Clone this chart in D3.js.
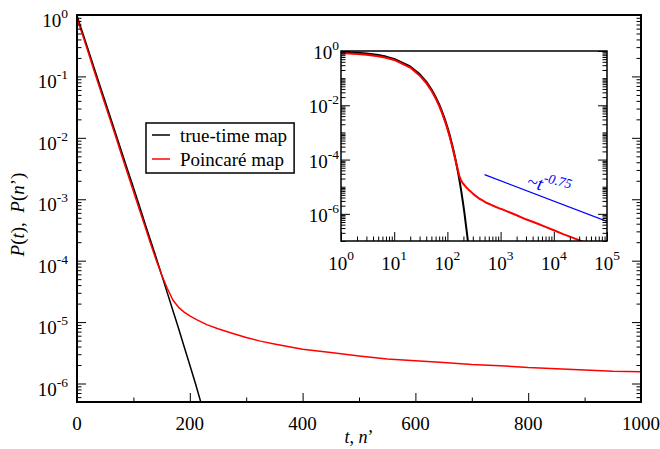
<!DOCTYPE html>
<html>
<head>
<meta charset="utf-8">
<script src="https://cdn.jsdelivr.net/npm/d3@7"></script>
<style>
  body { margin: 0; background: #fff; }
  svg { display: block; }
</style>
</head>
<body>
<svg id="chart" width="660" height="449"></svg>
<script>
// Survival probability of the true-time map, P(t)
const trueTimeT = [0, 1, 2, 3, 5, 7, 10, 20, 30, 40, 50, 60, 70, 80, 90, 100, 110, 120, 130,
  140, 150, 160, 170, 180, 190, 200, 210, 220, 230, 240, 250];
const trueTimeP = [0.977, 0.916, 0.859, 0.805, 0.708, 0.622, 0.513, 0.269, 0.141, 0.0741, 0.0389,
  0.0204, 0.0107, 0.00562, 0.00295, 0.00155, 8.13e-4, 4.17e-4, 2.19e-4, 1.15e-4, 5.89e-5, 3.02e-5,
  1.55e-5, 7.94e-6, 3.98e-6, 2.0e-6, 1.0e-6, 4.8e-7, 2.4e-7, 1.2e-7, 6.0e-8];

// Survival probability of the Poincaré map, P(n')
const poincareN = [0, 1, 2, 3, 5, 7, 10, 20, 30, 40, 50, 60, 70, 80, 90, 100, 110, 120, 130,
  140, 150, 160, 170, 180, 190, 200, 212, 230, 250, 275, 300, 325, 350, 400, 450, 500, 550, 600, 650,
  700, 750, 800, 850, 900, 950, 1000, 1500, 2000, 3000, 5000, 7000, 10000, 15000, 20000, 30000, 40000];
const poincareP = [0.891, 0.836, 0.783, 0.733, 0.645, 0.562, 0.468, 0.245, 0.126, 0.0661, 0.0347,
  0.0182, 0.00955, 0.0049, 0.00257, 0.00135, 7.08e-4, 3.72e-4, 1.95e-4, 1.05e-4, 5.9e-5, 3.55e-5,
  2.29e-5, 1.74e-5, 1.45e-5, 1.26e-5, 1.1e-5, 9.1e-6, 7.8e-6, 6.6e-6, 5.6e-6, 4.9e-6, 4.4e-6, 3.6e-6,
  3.2e-6, 2.8e-6, 2.5e-6, 2.35e-6, 2.2e-6, 2.04e-6, 1.95e-6, 1.82e-6, 1.74e-6, 1.66e-6, 1.58e-6,
  1.55e-6, 1.12e-6, 8.9e-7, 6.3e-7, 4.3e-7, 3.3e-7, 2.5e-7, 1.8e-7, 1.45e-7, 1.07e-7, 8.5e-8];

// Power-law guide ~ t^-0.75
const guideT = [500, 100000];
const guideP = [2.8e-5, 5.3e-7];
const guideLabel = "~t";
const guideExponent = "-0.75";

// Axis ticks and labels
const mainXMajor = [0, 200, 400, 600, 800, 1000];
const mainXMinor = [100, 300, 500, 700, 900];
const mainYExponents = [0, -1, -2, -3, -4, -5, -6];
const insetXExponents = [0, 1, 2, 3, 4, 5];
const insetYExponents = [0, -1, -2, -3, -4, -5, -6, -7];
const insetYLabelExponents = [0, -2, -4, -6];

const legendLabels = ["true-time map", "Poincaré map"];
const seriesColors = ["#000000", "#ff0000"];
const guideColor = "#0000ff";

const FONT = "'Liberation Serif'";

const svg = d3.select("#chart");

const mainBox = { left: 77, right: 641, top: 15, bottom: 402 };
const insetBox = { left: 341, right: 607, top: 51, bottom: 241 };

const x = d3.scaleLinear().domain([0, 1000]).range([mainBox.left, mainBox.right]);
const y = d3.scaleLog().domain([5e-7, 1]).range([mainBox.bottom, mainBox.top]);
const ix = d3.scaleLog().domain([1, 1e5]).range([insetBox.left, insetBox.right]);
const iy = d3.scaleLog().domain([1e-7, 1]).range([insetBox.bottom, insetBox.top]);

// log minor ticks (2..9 times each power of ten) within a domain
function logMinor(domain) {
  const out = [];
  const lo = Math.floor(Math.log10(domain[0])), hi = Math.ceil(Math.log10(domain[1]));
  for (let e = lo; e < hi; e++) {
    for (let m = 2; m <= 9; m++) {
      const v = m * Math.pow(10, e);
      if (v >= domain[0] * 0.999 && v <= domain[1] * 1.001) out.push(v);
    }
  }
  return out;
}

function drawTicks(g, axisFn, scale, values, size) {
  g.call(axisFn(scale).tickValues(values).tickSize(-size).tickFormat(""))
    .call(s => s.select(".domain").remove())
    .call(s => s.selectAll(".tick text").remove());
  g.selectAll(".tick line").attr("stroke", "#000").attr("stroke-width", 1);
}

function addText(g, px, py, size) {
  return g.append("text")
    .attr("x", px).attr("y", py)
    .style("font-family", FONT)
    .style("font-size", size + "px");
}

function powerLabel(g, px, py, exp, anchor, base, sup, rise) {
  const t = addText(g, px, py, base).attr("text-anchor", anchor);
  t.append("tspan").text("10");
  t.append("tspan").attr("dy", -rise).style("font-size", sup + "px").text(String(exp));
  return t;
}

svg.append("clipPath").attr("id", "clip-main")
  .append("rect")
  .attr("x", mainBox.left).attr("y", mainBox.top)
  .attr("width", mainBox.right - mainBox.left).attr("height", mainBox.bottom - mainBox.top);
svg.append("clipPath").attr("id", "clip-inset")
  .append("rect")
  .attr("x", insetBox.left).attr("y", insetBox.top)
  .attr("width", insetBox.right - insetBox.left).attr("height", insetBox.bottom - insetBox.top);

// ---------- main panel ----------
const series = [
  { xs: trueTimeT, ps: trueTimeP, color: seriesColors[0] },
  { xs: poincareN, ps: poincareP, color: seriesColors[1] }
];

const mainLine = d3.line().x(d => x(d[0])).y(d => y(d[1]));
const mainCurves = svg.append("g").attr("clip-path", "url(#clip-main)");
series.forEach(s => {
  const pts = s.xs.map((v, i) => [v, s.ps[i]]).filter(d => d[0] <= 1100);
  mainCurves.append("path")
    .attr("d", mainLine(pts))
    .attr("fill", "none")
    .attr("stroke", s.color)
    .attr("stroke-width", 1.5)
    .attr("stroke-linejoin", "round");
});

const yMajorMain = mainYExponents.map(e => Math.pow(10, e));
const yMinorMain = logMinor(y.domain());

drawTicks(svg.append("g").attr("transform", `translate(0,${mainBox.bottom})`), d3.axisBottom, x, mainXMajor, 9);
drawTicks(svg.append("g").attr("transform", `translate(0,${mainBox.bottom})`), d3.axisBottom, x, mainXMinor, 4.5);
drawTicks(svg.append("g").attr("transform", `translate(${mainBox.left},0)`), d3.axisLeft, y, yMajorMain, 9);
drawTicks(svg.append("g").attr("transform", `translate(${mainBox.left},0)`), d3.axisLeft, y, yMinorMain, 4.5);
drawTicks(svg.append("g").attr("transform", `translate(${mainBox.right},0)`), d3.axisRight, y, yMajorMain, 9);
drawTicks(svg.append("g").attr("transform", `translate(${mainBox.right},0)`), d3.axisRight, y, yMinorMain, 4.5);

svg.append("rect")
  .attr("x", mainBox.left).attr("y", mainBox.top)
  .attr("width", mainBox.right - mainBox.left).attr("height", mainBox.bottom - mainBox.top)
  .attr("fill", "none").attr("stroke", "#000").attr("stroke-width", 2);

const labels = svg.append("g");
mainXMajor.forEach(v => {
  addText(labels, x(v), 430, 19).attr("text-anchor", "middle").text(v);
});
mainYExponents.forEach(e => {
  powerLabel(labels, 68, y(Math.pow(10, e)) + 12, e, "end", 19, 13.5, 9);
});

// axis titles
const xTitle = addText(svg, (mainBox.left + mainBox.right) / 2, 443, 18).attr("text-anchor", "middle");
xTitle.append("tspan").style("font-style", "italic").text("t");
xTitle.append("tspan").text(", ");
xTitle.append("tspan").style("font-style", "italic").text("n");
xTitle.append("tspan").text("’");

const yTitle = svg.append("text")
  .attr("transform", `translate(24,${(mainBox.top + mainBox.bottom) / 2 + 6}) rotate(-90)`)
  .attr("text-anchor", "middle")
  .style("font-family", FONT).style("font-size", "19px");
yTitle.append("tspan").style("font-style", "italic").text("P");
yTitle.append("tspan").text("(");
yTitle.append("tspan").style("font-style", "italic").text("t");
yTitle.append("tspan").text("),\u00a0\u00a0");
yTitle.append("tspan").style("font-style", "italic").text("P");
yTitle.append("tspan").text("(");
yTitle.append("tspan").style("font-style", "italic").text("n");
yTitle.append("tspan").text("’)");

// legend
const legend = svg.append("g");
const legendBox = legend.append("rect")
  .attr("x", 146).attr("y", 123)
  .attr("height", 50)
  .attr("fill", "#fff").attr("stroke", "#000").attr("stroke-width", 1.5);
let legendRight = 0;
legendLabels.forEach((lab, i) => {
  const by = 141.5 + i * 24;
  legend.append("line")
    .attr("x1", 152).attr("x2", 170)
    .attr("y1", by - 6.5).attr("y2", by - 6.5)
    .attr("stroke", seriesColors[i]).attr("stroke-width", 1.5);
  const t = addText(legend, 180, by, 19).text(lab);
  legendRight = Math.max(legendRight, 180 + t.node().getComputedTextLength());
});
legendBox.attr("width", legendRight + 7 - 146);

// ---------- inset panel ----------
svg.append("rect")
  .attr("x", insetBox.left).attr("y", insetBox.top)
  .attr("width", insetBox.right - insetBox.left).attr("height", insetBox.bottom - insetBox.top)
  .attr("fill", "#fff");

const insetLine = d3.line().x(d => ix(d[0])).y(d => iy(d[1]));
const insetCurves = svg.append("g").attr("clip-path", "url(#clip-inset)");
series.forEach(s => {
  const pts = s.xs.map((v, i) => [v, s.ps[i]]).filter(d => d[0] >= 1);
  insetCurves.append("path")
    .attr("d", insetLine(pts))
    .attr("fill", "none")
    .attr("stroke", s.color)
    .attr("stroke-width", 2)
    .attr("stroke-linejoin", "round");
});
insetCurves.append("path")
  .attr("d", insetLine(guideT.map((v, i) => [v, guideP[i]])))
  .attr("fill", "none")
  .attr("stroke", guideColor)
  .attr("stroke-width", 1.2);

const ixMajor = insetXExponents.map(e => Math.pow(10, e));
const iyMajor = insetYExponents.map(e => Math.pow(10, e));
const iyLabelled = insetYLabelExponents.map(e => Math.pow(10, e));
const iyUnlabelled = iyMajor.filter(v => !iyLabelled.includes(v));

drawTicks(svg.append("g").attr("transform", `translate(0,${insetBox.bottom})`), d3.axisBottom, ix, ixMajor, 9);
drawTicks(svg.append("g").attr("transform", `translate(0,${insetBox.bottom})`), d3.axisBottom, ix, logMinor(ix.domain()), 4.5);
[[insetBox.left, d3.axisLeft], [insetBox.right, d3.axisRight]].forEach(([px, fn]) => {
  drawTicks(svg.append("g").attr("transform", `translate(${px},0)`), fn, iy, iyLabelled, 9);
  drawTicks(svg.append("g").attr("transform", `translate(${px},0)`), fn, iy, iyUnlabelled, 4.5);
  drawTicks(svg.append("g").attr("transform", `translate(${px},0)`), fn, iy, logMinor(iy.domain()), 4.5);
});

svg.append("rect")
  .attr("x", insetBox.left).attr("y", insetBox.top)
  .attr("width", insetBox.right - insetBox.left).attr("height", insetBox.bottom - insetBox.top)
  .attr("fill", "none").attr("stroke", "#000").attr("stroke-width", 1.5);

insetXExponents.forEach(e => {
  powerLabel(labels, ix(Math.pow(10, e)), 270, e, "middle", 19, 13.5, 10);
});
insetYLabelExponents.forEach(e => {
  powerLabel(labels, 339, iy(Math.pow(10, e)) + 8, e, "end", 19, 13.5, 9);
});

// guide label, tilted along the guide line
const gl = svg.append("text")
  .attr("transform", `translate(${ix(3000)},${iy(1e-5)}) rotate(14)`)
  .style("font-family", FONT).style("font-size", "19px").style("font-style", "italic")
  .attr("fill", guideColor);
gl.append("tspan").text(guideLabel);
gl.append("tspan").attr("dy", -9).style("font-size", "13.5px").text(guideExponent);
</script>
</body>
</html>
